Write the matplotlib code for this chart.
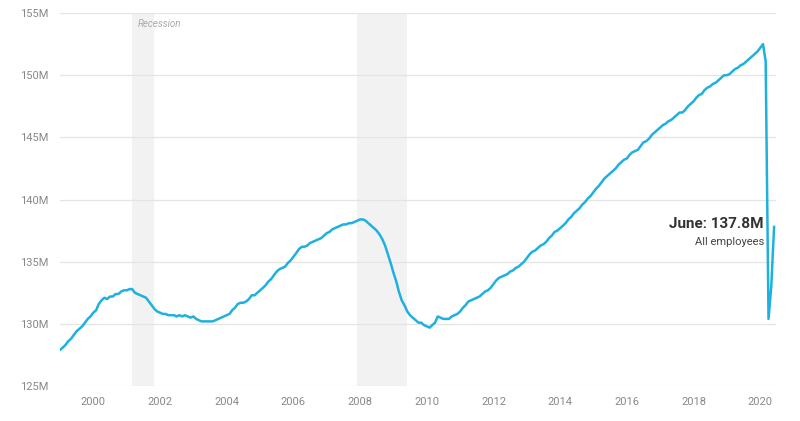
import matplotlib as mpl
mpl.use('Agg')
import matplotlib.pyplot as plt
import matplotlib.dates as mdates
import pandas as pd

# all employees, total nonfarm, millions (monthly, Jan 1999 - Jun 2020)
y1999 = [127.9, 128.1, 128.3, 128.6, 128.8, 129.1, 129.4, 129.6, 129.8, 130.1, 130.4, 130.6]
y2000 = [130.9, 131.1, 131.6, 131.9, 132.1, 132.0, 132.2, 132.2, 132.4, 132.4, 132.6, 132.7]
y2001 = [132.7, 132.8, 132.8, 132.5, 132.4, 132.3, 132.2, 132.1, 131.8, 131.5, 131.2, 131.0]
y2002 = [130.9, 130.8, 130.8, 130.7, 130.7, 130.7, 130.6, 130.7, 130.6, 130.7, 130.6, 130.5]
y2003 = [130.6, 130.4, 130.3, 130.2, 130.2, 130.2, 130.2, 130.2, 130.3, 130.4, 130.5, 130.6]
y2004 = [130.7, 130.8, 131.1, 131.3, 131.6, 131.7, 131.7, 131.8, 132.0, 132.3, 132.3, 132.5]
y2005 = [132.7, 132.9, 133.1, 133.4, 133.6, 133.9, 134.2, 134.4, 134.5, 134.6, 134.9, 135.1]
y2006 = [135.4, 135.7, 136.0, 136.2, 136.2, 136.3, 136.5, 136.6, 136.7, 136.8, 136.9, 137.1]
y2007 = [137.3, 137.4, 137.6, 137.7, 137.8, 137.9, 138.0, 138.0, 138.1, 138.1, 138.2, 138.3]
y2008 = [138.4, 138.4, 138.3, 138.1, 137.9, 137.7, 137.5, 137.2, 136.8, 136.3, 135.6, 134.9]
y2009 = [134.1, 133.4, 132.6, 131.9, 131.5, 131.0, 130.7, 130.5, 130.3, 130.1, 130.1, 129.9]
y2010 = [129.8, 129.7, 129.9, 130.1, 130.6, 130.5, 130.4, 130.4, 130.4, 130.6, 130.7, 130.8]
y2011 = [131.0, 131.3, 131.5, 131.8, 131.9, 132.0, 132.1, 132.2, 132.4, 132.6, 132.7, 132.9]
y2012 = [133.2, 133.5, 133.7, 133.8, 133.9, 134.0, 134.2, 134.3, 134.5, 134.6, 134.8, 135.0]
y2013 = [135.3, 135.6, 135.8, 135.9, 136.1, 136.3, 136.4, 136.6, 136.9, 137.1, 137.4, 137.5]
y2014 = [137.7, 137.9, 138.1, 138.4, 138.6, 138.9, 139.1, 139.3, 139.6, 139.8, 140.1, 140.3]
y2015 = [140.6, 140.9, 141.1, 141.4, 141.7, 141.9, 142.1, 142.3, 142.5, 142.8, 143.0, 143.2]
y2016 = [143.3, 143.6, 143.8, 143.9, 144.0, 144.3, 144.6, 144.7, 144.9, 145.2, 145.4, 145.6]
y2017 = [145.8, 146.0, 146.1, 146.3, 146.4, 146.6, 146.8, 147.0, 147.0, 147.2, 147.5, 147.7]
y2018 = [147.9, 148.2, 148.4, 148.5, 148.8, 149.0, 149.1, 149.3, 149.4, 149.6, 149.8, 150.0]
y2019 = [150.0, 150.1, 150.3, 150.5, 150.6, 150.8, 150.9, 151.1, 151.3, 151.5, 151.7, 151.9]
y2020 = [152.2, 152.5, 151.1, 130.4, 133.0, 137.8]

employees = (y1999 + y2000 + y2001 + y2002 + y2003 + y2004 + y2005 + y2006 + y2007
             + y2008 + y2009 + y2010 + y2011 + y2012 + y2013 + y2014 + y2015 + y2016
             + y2017 + y2018 + y2019 + y2020)
months = pd.date_range('1999-01-01', periods=len(employees), freq='MS')

recessions = [('2001-03-01', '2001-11-01'), ('2007-12-01', '2009-06-01')]
y_ticks = [125, 130, 135, 140, 145, 150, 155]
x_years = list(range(2000, 2021, 2))

fig = plt.figure(figsize=(8, 4.21), dpi=100)
fig.patch.set_facecolor('white')
ax = fig.add_axes([0.075, 0.083, 0.895, 0.886])

for start, end in recessions:
    ax.axvspan(pd.Timestamp(start), pd.Timestamp(end), color='#f2f2f2', lw=0, zorder=0)

ax.plot(months, employees, color='#1eb1df', lw=1.8, zorder=3, solid_joinstyle='round')

ax.set_ylim(125, 155)
ax.set_xlim(pd.Timestamp('1999-01-01'), pd.Timestamp('2020-06-22'))
ax.set_yticks(y_ticks)
ax.set_yticklabels([f'{v}M' for v in y_ticks])
ax.set_xticks([pd.Timestamp(f'{y}-01-01') for y in x_years])
ax.set_xticklabels([str(y) for y in x_years])
ax.grid(axis='y', color='#e4e4e4', lw=0.9, zorder=1)
ax.grid(axis='x', visible=False)
for s in ax.spines.values():
    s.set_visible(False)
ax.tick_params(axis='both', length=0, colors='#888888', labelsize=8)
ax.tick_params(axis='y', pad=8)
ax.tick_params(axis='x', pad=8)
for lbl in ax.get_xticklabels() + ax.get_yticklabels():
    lbl.set_fontfamily('Roboto')

ax.text(pd.Timestamp('2001-05-01'), 154.1, 'Recession', fontsize=7, style='italic',
        color='#aaaaaa', family='Roboto', va='center', ha='left')

ax.text(pd.Timestamp('2020-02-10'), 138.05, 'June: 137.8M', fontsize=11, fontweight='bold',
        color='#333333', family='Roboto', ha='right', va='center')
ax.text(pd.Timestamp('2020-02-10'), 136.6, 'All employees', fontsize=8,
        color='#444444', family='Roboto', ha='right', va='center')

fig.savefig('out.png', dpi=100, facecolor='white')
